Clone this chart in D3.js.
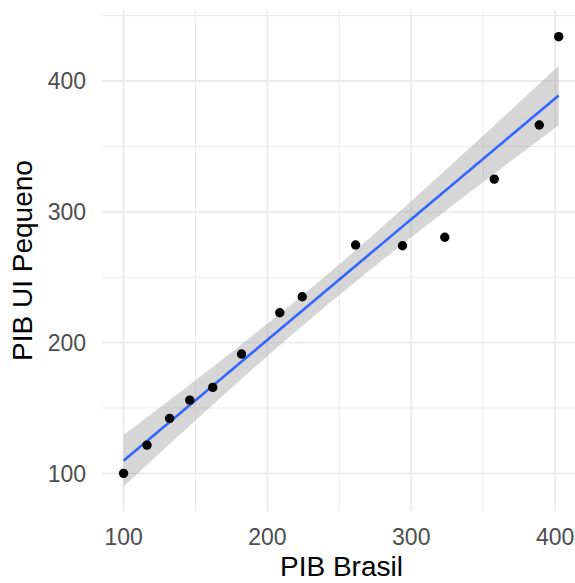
<!DOCTYPE html>
<html>
<head>
<meta charset="utf-8">
<script src="https://cdn.jsdelivr.net/npm/d3@7"></script>
<style>
	body { margin: 0; background: #fff; }
	svg { display: block; font-family: "Liberation Sans", Arial, sans-serif; }
</style>
</head>
<body>
<svg id="chart" width="575" height="583"></svg>
<script>
	'use strict';

	//data
	var pibBrasil = [100, 116.3, 132, 146, 162, 182, 208.6, 224.2, 261.3, 293.9, 323.3, 357.7, 389, 402.5],
		pibPequeno = [100, 121.6, 142, 156, 165.7, 191.2, 222.8, 235, 274.6, 274, 280.5, 325, 366.4, 433.9],
		xTicks = [100, 200, 300, 400],
		xMinor = [150, 250, 350],
		yTicks = [100, 200, 300, 400],
		yMinor = [150, 250, 350, 450],
		xTitle = 'PIB Brasil',
		yTitle = 'PIB UI Pequeno',
		tCrit = 2.1788; //t(0.975, df = 12)

	var svg = d3.select('#chart'),
		x = d3.scaleLinear().domain([85, 418]).range([102, 581]),
		y = d3.scaleLinear().domain([71.2, 454.3]).range([511, 10]);

	//linear model, same as geom_smooth(method = 'lm')
	var n = pibBrasil.length,
		mx = d3.mean(pibBrasil),
		my = d3.mean(pibPequeno),
		sxx = d3.sum(pibBrasil, function(v) { return (v - mx) * (v - mx); }),
		sxy = d3.sum(pibBrasil, function(v, i) { return (v - mx) * (pibPequeno[i] - my); }),
		slope = sxy / sxx,
		icpt = my - slope * mx,
		sse = d3.sum(pibBrasil, function(v, i) {
			var r = pibPequeno[i] - (icpt + slope * v);
			return r * r;
		}),
		s = Math.sqrt(sse / (n - 2)),
		xMin = d3.min(pibBrasil),
		xMax = d3.max(pibBrasil);

	var fit = d3.range(80).map(function(i) {
		var xv = xMin + (xMax - xMin) * i / 79,
			yv = icpt + slope * xv,
			se = s * Math.sqrt(1 / n + (xv - mx) * (xv - mx) / sxx);
		return { x: xv, y: yv, lo: yv - tCrit * se, hi: yv + tCrit * se };
	});

	//grid
	var grid = svg.append('g');
	grid.selectAll('.vmin').data(xMinor).enter().append('line')
		.attr('x1', x).attr('x2', x).attr('y1', y.range()[0]).attr('y2', y.range()[1])
		.attr('stroke', '#ebebeb').attr('stroke-width', 1);
	grid.selectAll('.hmin').data(yMinor).enter().append('line')
		.attr('y1', y).attr('y2', y).attr('x1', x.range()[0]).attr('x2', x.range()[1])
		.attr('stroke', '#ebebeb').attr('stroke-width', 1);
	grid.selectAll('.vmaj').data(xTicks).enter().append('line')
		.attr('x1', x).attr('x2', x).attr('y1', y.range()[0]).attr('y2', y.range()[1])
		.attr('stroke', '#ebebeb').attr('stroke-width', 1.8);
	grid.selectAll('.hmaj').data(yTicks).enter().append('line')
		.attr('y1', y).attr('y2', y).attr('x1', x.range()[0]).attr('x2', x.range()[1])
		.attr('stroke', '#ebebeb').attr('stroke-width', 1.8);

	//ribbon + line
	svg.append('path')
		.datum(fit)
		.attr('d', d3.area()
			.x(function(d) { return x(d.x); })
			.y0(function(d) { return y(d.lo); })
			.y1(function(d) { return y(d.hi); }))
		.attr('fill', '#999999')
		.attr('fill-opacity', 0.4);

	svg.append('path')
		.datum(fit)
		.attr('d', d3.line()
			.x(function(d) { return x(d.x); })
			.y(function(d) { return y(d.y); }))
		.attr('fill', 'none')
		.attr('stroke', '#3366ff')
		.attr('stroke-width', 2.6);

	//points
	svg.append('g').selectAll('circle')
		.data(pibBrasil)
		.enter().append('circle')
		.attr('cx', function(d) { return x(d); })
		.attr('cy', function(d, i) { return y(pibPequeno[i]); })
		.attr('r', 4.7)
		.attr('fill', '#000');

	//tick labels
	svg.append('g').selectAll('text')
		.data(xTicks)
		.enter().append('text')
		.attr('x', x)
		.attr('y', 545)
		.attr('text-anchor', 'middle')
		.attr('font-size', 23)
		.attr('fill', '#4d4d4d')
		.text(function(d) { return d; });

	svg.append('g').selectAll('text')
		.data(yTicks)
		.enter().append('text')
		.attr('x', 86)
		.attr('y', y)
		.attr('dy', '0.36em')
		.attr('text-anchor', 'end')
		.attr('font-size', 23)
		.attr('fill', '#4d4d4d')
		.text(function(d) { return d; });

	//axis titles
	svg.append('text')
		.attr('x', (x.range()[0] + x.range()[1]) / 2)
		.attr('y', 576)
		.attr('text-anchor', 'middle')
		.attr('font-size', 28)
		.attr('fill', '#000')
		.text(xTitle);

	svg.append('text')
		.attr('transform', 'translate(32,' + ((y.range()[0] + y.range()[1]) / 2) + ') rotate(-90)')
		.attr('text-anchor', 'middle')
		.attr('font-size', 28)
		.attr('fill', '#000')
		.text(yTitle);
</script>
</body>
</html>
